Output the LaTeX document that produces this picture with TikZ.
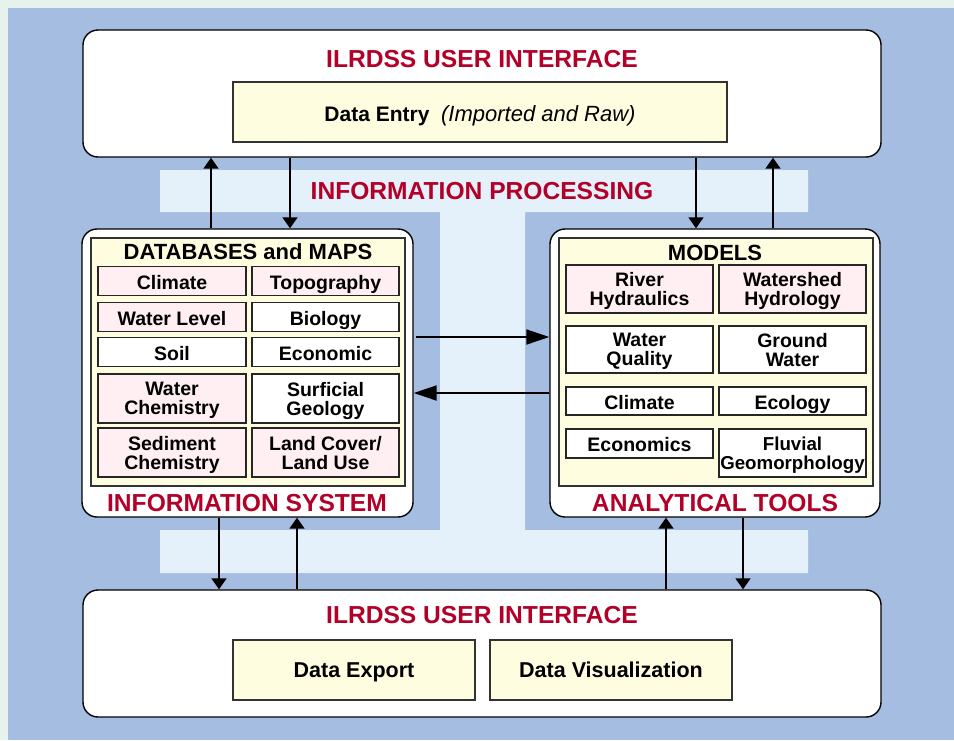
\documentclass[tikz,border=0pt]{standalone}
\usepackage{fontspec}
\setmainfont{Liberation Sans}
\usetikzlibrary{arrows.meta}
\definecolor{frame}{RGB}{232,242,236}
\definecolor{bgblue}{RGB}{164,189,224}
\definecolor{band}{RGB}{228,240,250}
\definecolor{pinkc}{RGB}{255,238,242}
\definecolor{yel}{RGB}{255,253,224}
\definecolor{redt}{RGB}{178,0,40}
\tikzset{
  rbox/.style={draw=black, line width=1.4pt, fill=white, rounded corners=15pt, inner sep=0pt},
  ybox/.style={draw=black!80, line width=1.2pt, fill=yel, inner sep=0pt},
  cellw/.style={draw=black!85, line width=1.2pt, fill=white, inner sep=0pt, align=center,
    font=\fontsize{19.5}{19}\selectfont\bfseries, text depth=0pt},
  cellp/.style={cellw, fill=pinkc},
  one/.style={text height=16.5pt, text depth=0pt},
  redlab/.style={text=redt, font=\fontsize{24.6}{26}\selectfont\bfseries, inner sep=0pt},
  blklab/.style={font=\fontsize{22}{23}\selectfont\bfseries, inner sep=0pt, text height=15.5pt, text depth=0pt},
  arr/.style={line width=1.8pt, -{Triangle[length=11pt,width=15pt]}},
  arrm/.style={line width=1.8pt, -{Triangle[length=23pt,width=15pt]}}
}
\begin{document}
\begin{tikzpicture}[x=1pt,y=-1pt]
\useasboundingbox (0,0) rectangle (954,740);
\fill[frame] (0,0) rectangle (954,740);
\fill[bgblue] (8,8) rectangle (954,740);
% information processing band
\fill[band] (160,170) -- (808,170) -- (808,212) -- (525,212) -- (525,530) -- (808,530)
  -- (808,573) -- (160,573) -- (160,530) -- (440,530) -- (440,212) -- (160,212) -- cycle;
\node[redlab] (iproc) at (482,191) {INFORMATION PROCESSING};

% top user interface
\node[rbox, minimum width=798pt, minimum height=127pt] (top) at (482,93.5) {};
\node[redlab] (toptitle) at (482,59) {ILRDSS USER INTERFACE};
\node[ybox, minimum width=494pt, minimum height=60pt, text height=19.4pt, text depth=0pt] (entry) at (480,112)
  {\fontsize{21}{23}\selectfont\bfseries Data Entry\ \ \fontsize{22}{23}\selectfont\mdseries\itshape (Imported and Raw)};

% information system
\node[rbox, minimum width=331pt, minimum height=288pt] (info) at (247.5,373) {};
\node[ybox, minimum width=314pt, minimum height=248pt] (infoin) at (248,362) {};
\node[blklab] (dbtitle) at (248,252) {DATABASES and MAPS};
\node[cellp, one, minimum width=148pt, minimum height=29pt] (c1) at (172,281) {Climate};
\node[cellp, one, minimum width=147pt, minimum height=29pt] (c2) at (325.5,281) {Topography};
\node[cellp, one, minimum width=148pt, minimum height=29pt] (c3) at (172,317) {Water Level};
\node[cellw, one, minimum width=147pt, minimum height=29pt] (c4) at (325.5,317) {Biology};
\node[cellw, one, minimum width=148pt, minimum height=29pt] (c5) at (172,352) {Soil};
\node[cellw, one, minimum width=147pt, minimum height=29pt] (c6) at (325.5,352) {Economic};
\node[cellp, minimum width=148pt, minimum height=49pt] (c7) at (172,398.5) {Water\\Chemistry};
\node[cellw, minimum width=147pt, minimum height=49pt] (c8) at (325.5,398.5) {Surficial\\Geology};
\node[cellp, minimum width=148pt, minimum height=49pt] (c9) at (172,452.5) {Sediment\\Chemistry};
\node[cellp, minimum width=147pt, minimum height=49pt] (c10) at (325.5,452.5) {Land Cover/\\Land Use};
\node[redlab] (infolab) at (247,503) {INFORMATION SYSTEM};

% analytical tools
\node[rbox, minimum width=330pt, minimum height=288pt] (tools) at (715,373) {};
\node[ybox, minimum width=314pt, minimum height=248pt] (toolsin) at (716,362) {};
\node[blklab] (models) at (715,253) {MODELS};
\node[cellp, minimum width=147pt, minimum height=48pt] (m1) at (639.5,289) {River\\Hydraulics};
\node[cellp, minimum width=147pt, minimum height=48pt] (m2) at (792.5,289) {Watershed\\Hydrology};
\node[cellw, minimum width=147pt, minimum height=47pt] (m3) at (639.5,349.5) {Water\\Quality};
\node[cellw, minimum width=147pt, minimum height=47pt] (m4) at (792.5,349.5) {Ground\\Water};
\node[cellw, one, minimum width=147pt, minimum height=28pt] (m5) at (639.5,401) {Climate};
\node[cellw, one, minimum width=147pt, minimum height=28pt] (m6) at (792.5,401) {Ecology};
\node[cellw, one, minimum width=147pt, minimum height=29pt] (m7) at (639.5,443.5) {Economics};
\node[cellw, minimum width=147pt, minimum height=48pt, font=\fontsize{18.7}{19}\selectfont\bfseries] (m8) at (792.5,453) {Fluvial\\Geomorphology};
\node[redlab] (toolslab) at (715,503) {ANALYTICAL TOOLS};

% bottom user interface
\node[rbox, minimum width=798pt, minimum height=127pt] (bot) at (482,653.5) {};
\node[redlab] (bottitle) at (482,615) {ILRDSS USER INTERFACE};
\node[ybox, minimum width=242pt, minimum height=60pt, text height=15.6pt, text depth=0pt, font=\fontsize{21.5}{23}\selectfont\bfseries] (export) at (354,670) {Data Export};
\node[ybox, minimum width=242pt, minimum height=60pt, text height=15.6pt, text depth=0pt, font=\fontsize{21.5}{23}\selectfont\bfseries] (vis) at (611,670) {Data Visualization};

% arrow positions
\coordinate (x1) at (211,0);
\coordinate (x2) at (290,0);
\coordinate (x3) at (696,0);
\coordinate (x4) at (773,0);
\coordinate (x5) at (219,0);
\coordinate (x6) at (297,0);
\coordinate (x7) at (666,0);
\coordinate (x8) at (743,0);
\coordinate (y1) at (0,337);
\coordinate (y2) at (0,393);

\draw[arr] (info.north -| x1) -- (top.south -| x1);
\draw[arr] (top.south -| x2) -- (info.north -| x2);
\draw[arr] (top.south -| x3) -- (tools.north -| x3);
\draw[arr] (tools.north -| x4) -- (top.south -| x4);
\draw[arrm] ([xshift=2pt]info.east |- y1) -- (tools.west |- y1);
\draw[arrm] (tools.west |- y2) -- (info.east |- y2);
\draw[arr] (info.south -| x5) -- (bot.north -| x5);
\draw[arr] (bot.north -| x6) -- (info.south -| x6);
\draw[arr] (bot.north -| x7) -- (tools.south -| x7);
\draw[arr] (tools.south -| x8) -- (bot.north -| x8);
\end{tikzpicture}
\end{document}
